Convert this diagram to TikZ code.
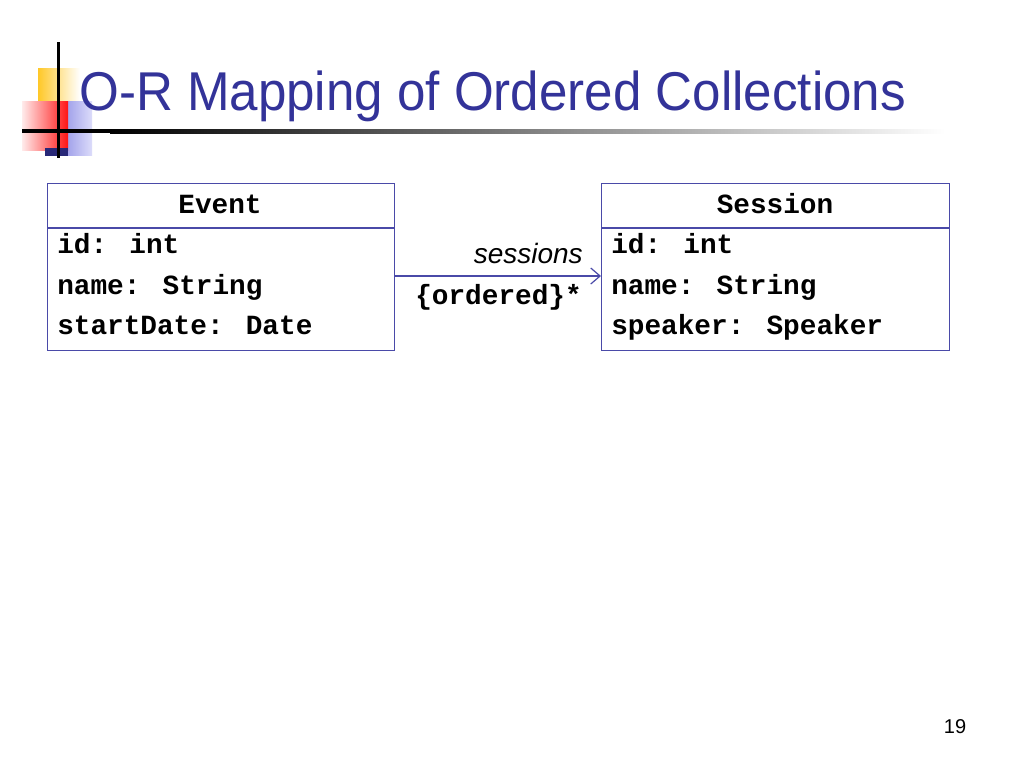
\documentclass[tikz,border=0pt]{standalone}
\usepackage{fontspec}
\usepackage{graphicx}
\setmainfont{Liberation Sans}
\newfontfamily\monof{Liberation Mono}
\usetikzlibrary{arrows.meta}
\definecolor{titleblue}{HTML}{333399}
\definecolor{boxblue}{HTML}{4A4AA8}
\definecolor{logoyellow}{RGB}{255,200,40}
\definecolor{logoblueA}{RGB}{110,110,220}
\definecolor{logoblueB}{RGB}{220,220,250}
\definecolor{logoredA}{RGB}{255,235,235}
\definecolor{logoredB}{RGB}{255,20,20}
\definecolor{logonavy}{RGB}{40,40,120}
\tikzset{
  cell/.style={anchor=base west, inner sep=0pt, font=\monof\bfseries\fontsize{20.8}{21}\selectfont},
  head/.style={anchor=base, inner sep=0pt, font=\monof\bfseries\fontsize{20.8}{21}\selectfont},
  classbox/.style={draw=boxblue, line width=0.9pt},
  assoc/.style={draw=boxblue, line width=0.9pt, -{Straight Barb[length=7pt,width=12pt]}},
}
\begin{document}
\begin{tikzpicture}[x=0.75pt,y=-0.75pt]
\useasboundingbox (0,0) rectangle (1024,768);
\fill[white] (0,0) rectangle (1024,768);
% logo
\shade[left color=logoyellow, right color=white] (38,68) rectangle (80,101);
\shade[left color=logoblueA, right color=logoblueB] (45,101) rectangle (92,155);
\shade[shading angle=135, left color=logoredA, right color=logoredB] (22,101) rectangle (68,150);
\fill[logonavy] (45,148) rectangle (68,156);
\fill[black] (22,129) rectangle (110,133);
\shade[left color=black, right color=white] (110,129) rectangle (945,133);
\fill[black] (56.5,42) rectangle (59.5,158);
% title
\node[anchor=base west, inner sep=0pt, text=titleblue, font=\fontsize{41}{41}\selectfont] (title) at (79,110) {\scalebox{0.935}[1]{O-R Mapping of Ordered Collections}};
% Event class
\node[classbox, minimum width=347*0.75pt, minimum height=167*0.75pt, anchor=north west, inner sep=0pt] (event) at (47,183) {};
\draw[boxblue, line width=0.9pt] (event.west |- 0,228) -- (event.east |- 0,228);
\node[head] (eventname) at (220,213) {Event};
\node[cell] (e1) at (57,253) {id: int};
\node[cell] (e2) at (57,294) {name: String};
\node[cell] (e3) at (57,334) {startDate: Date};
% Session class
\node[classbox, minimum width=348*0.75pt, minimum height=167*0.75pt, anchor=north west, inner sep=0pt] (session) at (601,183) {};
\draw[boxblue, line width=0.9pt] (session.west |- 0,228) -- (session.east |- 0,228);
\node[head] (sessionname) at (775,213) {Session};
\node[cell] (s1) at (611,253) {id: int};
\node[cell] (s2) at (611,294) {name: String};
\node[cell] (s3) at (611,334) {speaker: Speaker};
% association
\coordinate (a1) at (event.east |- 0,276);
\coordinate (a2) at (session.west |- 0,276);
\draw[assoc] (a1) -- (a2);
\node[anchor=base east, inner sep=0pt, font=\itshape\fontsize{21}{21}\selectfont] (role) at (583,263) {sessions};
\node[anchor=base east, inner sep=0pt, font=\monof\bfseries\fontsize{20.8}{21}\selectfont] (mult) at (582,304) {\{ordered\}*};
% page number
\node[anchor=base, inner sep=0pt, font=\fontsize{15}{15}\selectfont] (pagenum) at (955,733) {19};
\end{tikzpicture}
\end{document}
